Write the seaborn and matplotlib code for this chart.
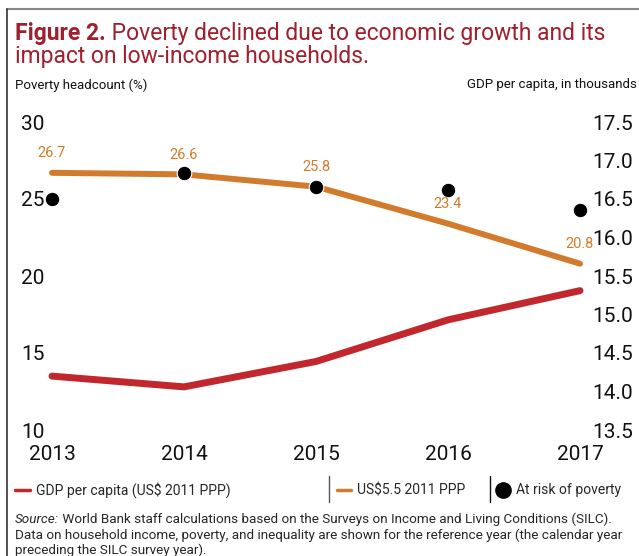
import matplotlib
matplotlib.use("Agg")
import matplotlib.pyplot as plt
import seaborn as sns
import pandas as pd
from matplotlib.lines import Line2D

# data
years = [2013, 2014, 2015, 2016, 2017]
gdp_per_capita = [14.20, 14.06, 14.39, 14.93, 15.31]
poverty_55 = [26.7, 26.6, 25.8, 23.4, 20.8]
at_risk = [25.0, 26.7, 25.8, 25.6, 24.3]

left_ticks = [10, 15, 20, 25, 30]
right_ticks = [13.5, 14.0, 14.5, 15.0, 15.5, 16.0, 16.5, 17.0, 17.5]

RED = "#c1272d"
ORANGE = "#d27b2c"
TITLE_RED = "#a01f2c"

sns.set_theme(style="white")
plt.rcParams["font.family"] = ["Roboto", "DejaVu Sans"]

df = pd.DataFrame({"year": years, "gdp": gdp_per_capita,
                   "pov55": poverty_55, "risk": at_risk})

W, H = 639, 556
fig = plt.figure(figsize=(W / 100, H / 100), dpi=100)
ax = fig.add_axes([52 / W, 1 - 430 / H, (580 - 52) / W, (430 - 122) / H])
ax2 = ax.twinx()

sns.lineplot(data=df, x="year", y="pov55", ax=ax, color=ORANGE, linewidth=4.3,
             solid_capstyle="round", clip_on=False, zorder=2)
sns.scatterplot(data=df, x="year", y="risk", ax=ax, color="black", s=110,
                edgecolor="white", linewidth=0.8, clip_on=False, zorder=3)
sns.lineplot(data=df, x="year", y="gdp", ax=ax2, color=RED, linewidth=5,
             solid_capstyle="round", clip_on=False)

for x, v in zip(years, poverty_55):
    ax.annotate(f"{v:.1f}", (x, v), xytext=(0, 9), textcoords="offset points",
                ha="center", va="bottom", color=ORANGE, fontsize=10.5)

ax.set_xlim(2013, 2017)
ax.set_ylim(10, 30)
ax2.set_ylim(13.5, 17.5)
ax.set_xticks(years)
ax.set_yticks(left_ticks)
ax2.set_yticks(right_ticks)
ax2.set_yticklabels([f"{t:.1f}" for t in right_ticks])
ax.set_xlabel("")
ax.set_ylabel("")
ax2.set_ylabel("")
ax.tick_params(axis="x", length=0, pad=11, labelsize=15, colors="#111111")
ax.tick_params(axis="y", length=0, pad=5.5, labelsize=15, colors="#111111")
ax2.tick_params(axis="y", length=0, pad=8.6, labelsize=15, colors="#111111")
for a in (ax, ax2):
    for s in a.spines.values():
        s.set_visible(False)
    a.grid(False)
    a.set_facecolor("none")

# frame lines
fig.add_artist(Line2D([7 / W, 1], [1 - 9 / H, 1 - 9 / H], color="#888888", lw=1.5))
fig.add_artist(Line2D([7 / W, 7 / W], [0, 1 - 9 / H], color="#333333", lw=1.2))

# title
title = fig.text(15 / W, 1 - 40 / H, "Figure 2.", fontsize=16.5, fontweight="bold",
                 color=TITLE_RED, va="baseline")
ax.annotate(" Poverty declined due to economic growth and its", xy=(1, 0),
            xycoords=title, va="bottom", ha="left", fontsize=16.5, color=TITLE_RED,
            annotation_clip=False)
fig.text(15 / W, 1 - 63 / H, "impact on low-income households.", fontsize=16.5,
         color=TITLE_RED, va="baseline")

fig.text(15 / W, 1 - 85 / H, "Poverty headcount (%)", fontsize=9.5, va="center",
         color="#111111")
fig.text(467 / W, 1 - 85 / H, "GDP per capita, in thousands", fontsize=9.5,
         va="center", color="#111111")

# legend
leg_y = 1 - 490 / H
fig.add_artist(Line2D([15 / W, 30 / W], [leg_y, leg_y], color=RED, lw=2.5))
fig.text(36 / W, leg_y, "GDP per capita (US$ 2011 PPP)", fontsize=10, va="center")
fig.add_artist(Line2D([329 / W, 329 / W], [1 - 476 / H, 1 - 502 / H], color="#555555", lw=1))
fig.add_artist(Line2D([337 / W, 351 / W], [leg_y, leg_y], color=ORANGE, lw=2.5))
fig.text(357 / W, leg_y, "US$5.5 2011 PPP", fontsize=10, va="center")
fig.add_artist(Line2D([490 / W, 490 / W], [1 - 476 / H, 1 - 502 / H], color="#111111", lw=1))
fig.add_artist(Line2D([503 / W], [leg_y], marker="o", color="black", markersize=11))
fig.text(516 / W, leg_y, "At risk of poverty", fontsize=10, va="center")

# source
src = fig.text(15 / W, 1 - 523 / H, "Source:", fontsize=9.7, style="italic",
               va="baseline")
ax.annotate(" World Bank staff calculations based on the Surveys on Income and Living Conditions (SILC).",
            xy=(1, 0), xycoords=src, va="bottom", ha="left", fontsize=9.7,
            annotation_clip=False)
fig.text(15 / W, 1 - 539 / H,
         "Data on household income, poverty, and inequality are shown for the reference year (the calendar year",
         fontsize=9.7, va="baseline")
fig.text(15 / W, 1 - 554 / H, "preceding the SILC survey year).", fontsize=9.7,
         va="baseline")

fig.savefig("out.png", dpi=100)
